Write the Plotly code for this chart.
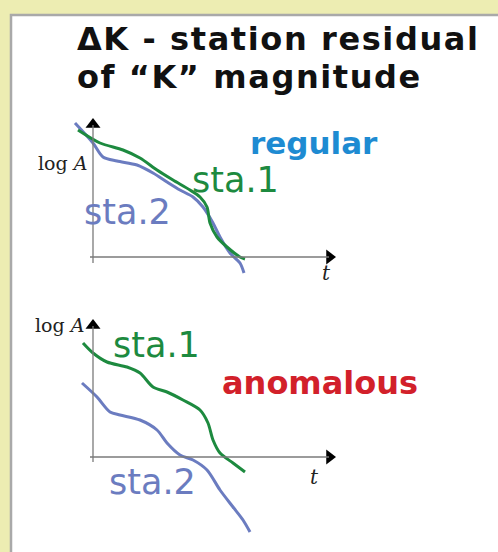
import plotly.graph_objects as go

# ---------------- data (panel units: t to the right, log A upward) ----------------
top_sta1_t    = [-1.5, 0.7, 3.0, 4.7, 6.4, 8.0, 9.7, 10.7, 11.4, 11.7, 12.4, 13.4, 14.7, 15.2]
top_sta1_logA = [12.7, 11.4, 10.7, 9.9, 8.7, 7.7, 6.7, 6.0, 5.0, 3.4, 2.0, 1.0, 0.0, -0.2]

top_sta2_t    = [-1.8, 0.0, 1.0, 2.4, 4.4, 6.0, 7.4, 8.7, 10.0, 11.0, 12.0, 12.7, 13.7, 14.7, 15.1]
top_sta2_logA = [13.4, 11.4, 10.0, 9.6, 9.2, 8.4, 7.5, 6.7, 6.0, 5.0, 3.4, 2.0, 0.4, -0.6, -1.6]

bot_sta1_t    = [-1.0, 0.0, 1.4, 3.4, 4.7, 6.0, 7.4, 9.0, 10.7, 11.5, 12.0, 12.7, 14.0, 15.2]
bot_sta1_logA = [11.4, 10.4, 9.5, 9.0, 8.4, 7.0, 6.5, 5.7, 4.7, 3.4, 1.7, 0.4, -0.6, -1.5]

bot_sta2_t    = [-1.1, 0.4, 1.7, 2.7, 4.7, 6.4, 7.4, 8.7, 10.0, 11.4, 12.7, 14.0, 15.0, 15.7]
bot_sta2_logA = [7.4, 6.0, 4.5, 4.2, 3.7, 2.7, 1.4, 0.2, -0.3, -1.3, -3.3, -5.0, -6.3, -7.5]

title_lines = ["ΔK - station residual", "of “K” magnitude"]
series_names = ["sta.1", "sta.2"]
case_labels = ["regular", "anomalous"]

# ---------------- styling ----------------
W, H = 498, 552
GREEN = "#1d8a3f"
BLUE2 = "#6b7cc0"
BLUE_TXT = "#1e8bd2"
RED_TXT = "#d2202a"
AXIS_GRAY = "#7a7a7a"
BG = "#ededb2"

# axis extents in panel units
T_MIN, T_TIP = -0.3, 24.4
Y_TOP = {"top": (-0.6, 14.0), "bot": (-0.5, 13.9)}

def px(x):
    return x / W

def py(y):
    return 1 - y / H

fig = go.Figure()

def add_curve(t, a, color, yaxis):
    fig.add_trace(go.Scatter(x=t, y=a, mode="lines", line=dict(color=color, width=3, shape="spline", smoothing=0.8),
                             yaxis=yaxis, hoverinfo="skip", showlegend=False))

add_curve(top_sta2_t, top_sta2_logA, BLUE2, "y")
add_curve(top_sta1_t, top_sta1_logA, GREEN, "y")
add_curve(bot_sta2_t, bot_sta2_logA, BLUE2, "y2")
add_curve(bot_sta1_t, bot_sta1_logA, GREEN, "y2")

# axes with arrow heads
for key, yref in (("top", "y"), ("bot", "y2")):
    y0, ytip = Y_TOP[key]
    fig.add_shape(type="line", xref="x", yref=yref, x0=0, x1=0, y0=y0, y1=ytip - 0.8,
                  line=dict(color=AXIS_GRAY, width=1.3))
    fig.add_shape(type="line", xref="x", yref=yref, x0=T_MIN, x1=T_TIP - 0.8, y0=0, y1=0,
                  line=dict(color=AXIS_GRAY, width=1.3))
    fig.add_trace(go.Scatter(x=[0], y=[ytip - 0.75], mode="markers", yaxis=yref,
                             marker=dict(symbol="triangle-up", size=13, color="black"),
                             hoverinfo="skip", showlegend=False))
    fig.add_trace(go.Scatter(x=[T_TIP - 0.75], y=[0], mode="markers", yaxis=yref,
                             marker=dict(symbol="triangle-right", size=13, color="black"),
                             hoverinfo="skip", showlegend=False))

# white panel
fig.add_shape(type="rect", xref="paper", yref="paper", x0=px(11), x1=px(520), y0=py(575), y1=py(15),
              line=dict(color="#a9a9a9", width=2.5), fillcolor="white", layer="below")

def ann(text, x, y, size, color, family, xanchor="left", yanchor="middle", bold=False):
    fig.add_annotation(text=text, x=px(x), y=py(y), xref="paper", yref="paper", showarrow=False,
                       xanchor=xanchor, yanchor=yanchor, align="left",
                       font=dict(size=size, color=color, family=family, weight="bold" if bold else "normal"))

SANS = "DejaVu Sans"
SERIF = "DejaVu Serif"
# title: one text block; base size sets the line spacing, span sets glyph size
title_html = "<br>".join('<span style="font-size:32px;letter-spacing:1.6px">%s</span>' % s for s in title_lines)
ann(title_html, 75, 18, 29, "#111111", SANS, yanchor="top", bold=True)

ann(case_labels[0], 314, 143, 31, BLUE_TXT, SANS, xanchor="center", bold=True)
ann(case_labels[1], 320, 383, 32, RED_TXT, SANS, xanchor="center", bold=True)

ann(series_names[0], 235, 180, 35, GREEN, SANS, xanchor="center")
ann(series_names[1], 128, 212, 35, BLUE2, SANS, xanchor="center")
ann(series_names[0], 156, 345, 35, GREEN, SANS, xanchor="center")
ann(series_names[1], 152, 482, 35, BLUE2, SANS, xanchor="center")

ann("log <i>A</i>", 62, 163, 19, "#222222", SERIF, xanchor="center")
ann("log <i>A</i>", 59, 325, 19, "#222222", SERIF, xanchor="center")
ann("<i>t</i>", 326, 273, 20, "#222222", SERIF, xanchor="center")
ann("<i>t</i>", 314, 477, 20, "#222222", SERIF, xanchor="center")

# axis ranges map the panels onto the canvas (10 px per unit)
fig.update_layout(
    width=W, height=H, margin=dict(l=0, r=0, t=0, b=0),
    paper_bgcolor=BG, plot_bgcolor="rgba(0,0,0,0)",
    xaxis=dict(range=[-9.3, 40.5], visible=False, fixedrange=True),
    yaxis=dict(range=[(257 - 552) / 10, 257 / 10], visible=False, fixedrange=True),
    yaxis2=dict(range=[(457 - 552) / 10, 457 / 10], visible=False, overlaying="y", fixedrange=True),
    showlegend=False,
)

fig.write_html("out.html", config={"displayModeBar": False},
               post_script="document.body.style.margin='0';document.body.style.overflow='hidden';document.body.style.background='%s';" % BG)
